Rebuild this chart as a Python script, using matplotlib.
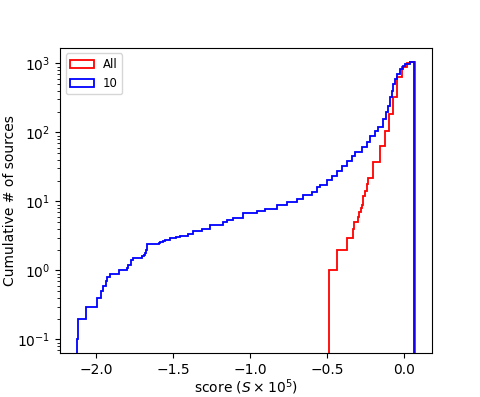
import matplotlib
matplotlib.use("Agg")
import matplotlib.pyplot as plt
from matplotlib.patches import Patch

# cumulative step curves: bin edges and the count on each bin
edges_10 = [-2.125, -2.120, -2.067, -1.995, -1.968, -1.953, -1.935, -1.930, -1.909,
            -1.849, -1.801, -1.790, -1.776, -1.772, -1.762, -1.703, -1.692, -1.682,
            -1.678, -1.672, -1.667, -1.595, -1.584, -1.565, -1.552, -1.519, -1.481,
            -1.455, -1.403, -1.368, -1.314, -1.260, -1.173, -1.151, -1.108, -1.044,
            -0.956, -0.903, -0.827, -0.762, -0.697, -0.654, -0.599, -0.567, -0.545,
            -0.502, -0.469, -0.437, -0.405, -0.372, -0.340, -0.318, -0.275, -0.242,
            -0.221, -0.188, -0.167, -0.134, -0.117, -0.102, -0.091, -0.080, -0.069,
            -0.058, -0.044, -0.026, -0.008, 0.006, 0.039, 0.062]
counts_10 = [0.1, 0.2, 0.3, 0.4, 0.5, 0.6, 0.7, 0.8, 0.9,
             1.0, 1.1, 1.2, 1.3, 1.4, 1.5, 1.6, 1.7, 1.8,
             2.0, 2.2, 2.4, 2.5, 2.6, 2.7, 2.8, 3.0, 3.1,
             3.2, 3.4, 3.7, 4.0, 4.6, 5.0, 5.4, 5.8, 6.7,
             7.2, 7.8, 9.0, 9.8, 10.9, 12.4, 13.6, 16.0, 17.5,
             20.1, 23.7, 28.0, 33.0, 39.0, 46.0, 51.5, 61.0, 72.0,
             90.0, 106.0, 118.0, 156.0, 195.0, 244.0, 322.0, 403.0, 500.0,
             594.0, 700.0, 826.0, 920.0, 982.0, 1060.0]

edges_all = [-0.490, -0.437, -0.368, -0.333, -0.325, -0.300, -0.290, -0.282, -0.275,
             -0.264, -0.253, -0.242, -0.232, -0.199, -0.156, -0.123, -0.095, -0.073,
             -0.047, -0.015, 0.018, 0.039, 0.071]
counts_all = [1, 2, 3, 4, 5, 6, 7, 8, 9,
              12, 14, 18, 22, 37, 64, 106, 185, 322,
              626, 874, 1000, 1060]

labels = ["All", "10"]
colors = ["red", "blue"]

fig, ax = plt.subplots(figsize=(4.8, 3.97), dpi=100)

ax.stairs(counts_all, edges_all, baseline=0, color=colors[0], linewidth=1.3)
ax.stairs(counts_10, edges_10, baseline=0, color=colors[1], linewidth=1.3)

ax.set_yscale("log")
ax.set_xlim(-2.235, 0.182)
ax.set_ylim(0.063, 1690)
ax.set_xlabel(r"score ($S \times 10^5$)", labelpad=0)
ax.set_ylabel("Cumulative # of sources", labelpad=0)

# hist-style legend boxes
handles = [Patch(facecolor="none", edgecolor=c, linewidth=1.3, label=l)
           for c, l in zip(colors, labels)]
ax.legend(handles=handles, loc="upper left", fontsize="small")

fig.savefig("out.png")
